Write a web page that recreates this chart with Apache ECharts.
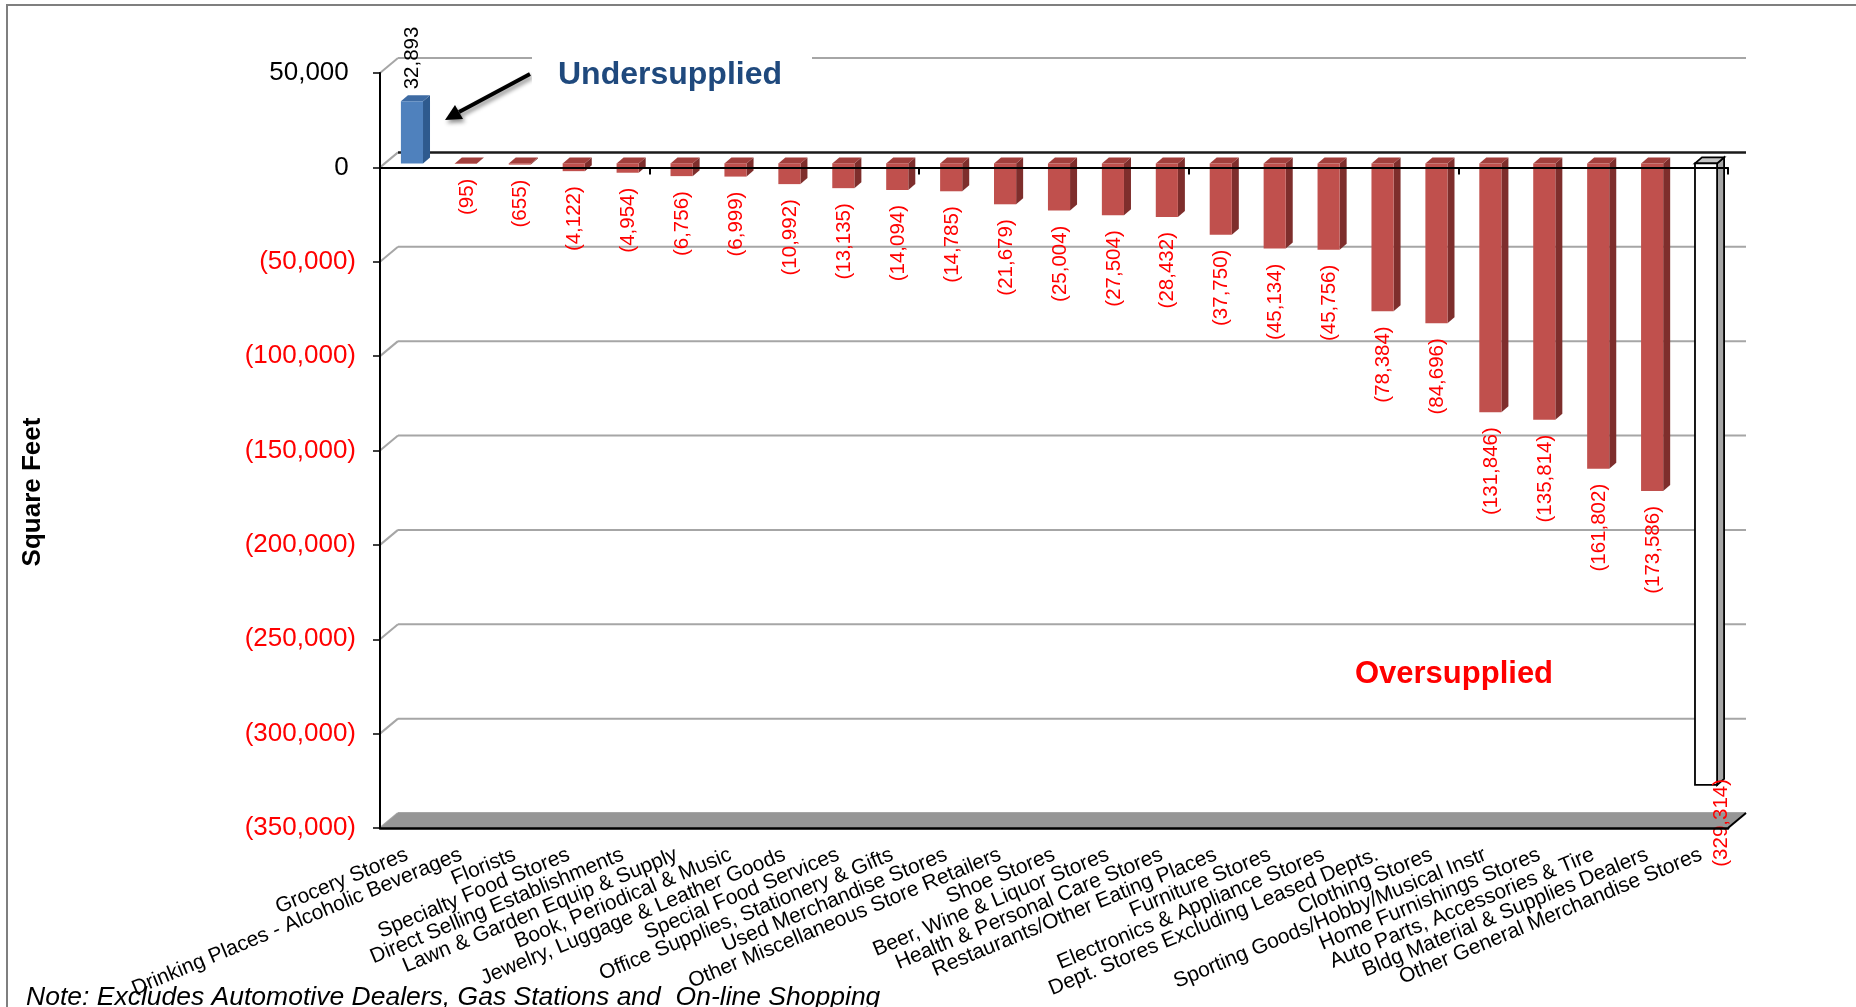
<!DOCTYPE html>
<html>
<head>
<meta charset="utf-8">
<script src="https://cdn.jsdelivr.net/npm/echarts@6/dist/echarts.min.js"></script>
<style>
html,body{margin:0;padding:0;background:#fff;}
#chart{width:1856px;height:1007px;}
</style>
</head>
<body>
<div id="chart"></div>
<script>
const categories = [
  'Grocery Stores',
  'Drinking Places - Alcoholic Beverages',
  'Florists',
  'Specialty Food Stores',
  'Direct Selling Establishments',
  'Lawn & Garden Equip & Supply',
  'Book, Periodical & Music',
  'Jewelry, Luggage & Leather Goods',
  'Special Food Services',
  'Office Supplies, Stationery & Gifts',
  'Used Merchandise Stores',
  'Other Miscellaneous Store Retailers',
  'Shoe Stores',
  'Beer, Wine & Liquor Stores',
  'Health & Personal Care Stores',
  'Restaurants/Other Eating Places',
  'Furniture Stores',
  'Electronics & Appliance Stores',
  'Dept. Stores Excluding Leased Depts.',
  'Clothing Stores',
  'Sporting Goods/Hobby/Musical Instr',
  'Home Furnishings Stores',
  'Auto Parts, Accessories & Tire',
  'Bldg Material & Supplies Dealers',
  'Other General Merchandise Stores'
];
const surplus = [
  32893, -95, -655, -4122, -4954, -6756, -6999, -10992, -13135, -14094,
  -14785, -21679, -25004, -27504, -28432, -37750, -45134, -45756, -78384,
  -84696, -131846, -135814, -161802, -173586, -329314
];
const yTicks = [50000, 0, -50000, -100000, -150000, -200000, -250000, -300000, -350000];
const yMin = -350000, yMax = 50000, yStep = 50000;

const FONT = "'Liberation Sans', Arial, Helvetica, sans-serif";
const WALL_DX = 18, WALL_DY = -15;   // depth of back wall
const BAR_DX = 7, BAR_DY = -6;       // depth of bars
const BAR_SX = 5, BAR_SY = -4;       // bar offset inside the depth
const minVal = Math.min.apply(null, surplus);

function fmt(v) {
  const s = Math.abs(v).toLocaleString('en-US');
  return v < 0 ? '(' + s + ')' : s;
}

const chart = echarts.init(document.getElementById('chart'), null, {renderer: 'canvas'});

function wallItem(params, api) {
  const cs = params.coordSys;
  const v = api.value(0);
  const y = api.coord([0, v])[1];
  const isZero = v === 0;
  return {
    type: 'group',
    children: [
      {type: 'polyline', shape: {points: [[cs.x, y], [cs.x + WALL_DX, y + WALL_DY]]},
       style: {stroke: '#A6A6A6', lineWidth: 2, fill: null}},
      {type: 'line', shape: {x1: cs.x + WALL_DX, y1: y + WALL_DY, x2: cs.x + cs.width + WALL_DX, y2: y + WALL_DY},
       style: {stroke: isZero ? '#1a1a1a' : '#A6A6A6', lineWidth: isZero ? 2.5 : 2}}
    ]
  };
}

function floorItem(params, api) {
  const cs = params.coordSys;
  const yb = api.coord([0, api.value(0)])[1];
  const xr = cs.x + cs.width;
  return {
    type: 'group',
    children: [
      {type: 'polygon', shape: {points: [[cs.x, yb], [xr, yb], [xr + WALL_DX, yb + WALL_DY], [cs.x + WALL_DX, yb + WALL_DY]]},
       style: {fill: '#969696', stroke: null}},
      {type: 'line', shape: {x1: xr, y1: yb, x2: xr + WALL_DX, y2: yb + WALL_DY},
       style: {stroke: '#000', lineWidth: 2}}
    ]
  };
}

function barItem(params, api) {
  const i = api.value(0), v = api.value(1);
  const base = api.coord([i, 0]);
  const end = api.coord([i, v]);
  const floorY = api.coord([i, yMin])[1];
  const band = api.size([1, 0])[0];
  const w = band * 0.41;
  const cx = base[0] + BAR_SX;
  const y0 = base[1] + BAR_SY, y1 = end[1] + BAR_SY;
  const top = Math.min(y0, y1), bot = Math.max(y0, y1);
  const xl = cx - w / 2, xr = cx + w / 2;
  let front, side, topc, stroke = null, lw = 0;
  if (v > 0) { front = '#4F81BD'; side = '#2E5A8E'; topc = '#3E6BA3'; }
  else if (v === minVal) { front = '#FFFFFF'; side = '#A6A6A6'; topc = '#C4C4C4'; stroke = '#000'; lw = 1.8; }
  else { front = '#C0504D'; side = '#7E2E2C'; topc = '#A23F3C'; }
  const children = [
    {type: 'polygon', shape: {points: [[xr, top], [xr + BAR_DX, top + BAR_DY], [xr + BAR_DX, bot + BAR_DY], [xr, bot]]},
     style: {fill: side, stroke: stroke, lineWidth: lw}},
    {type: 'polygon', shape: {points: [[xl, top], [xl + BAR_DX, top + BAR_DY], [xr + BAR_DX, top + BAR_DY], [xr, top]]},
     style: {fill: topc, stroke: stroke, lineWidth: lw}},
    {type: 'rect', shape: {x: xl, y: top, width: w, height: Math.max(bot - top, 0.5)},
     style: {fill: front, stroke: stroke, lineWidth: lw}}
  ];
  const txt = fmt(v);
  if (v > 0) {
    children.push({type: 'text', x: cx, y: top + BAR_DY - 6, rotation: Math.PI / 2,
      style: {text: txt, fill: '#000', font: '20.5px ' + FONT, align: 'left', verticalAlign: 'middle'}});
  } else {
    let lx = cx + 1, ly = bot + 15;
    if (ly + 90 > floorY + 30) { lx = xr + BAR_DX / 2 + 1; ly = bot - 6; }
    children.push({type: 'text', x: lx, y: ly, rotation: Math.PI / 2,
      style: {text: txt, fill: '#FF0000', font: '20.5px ' + FONT, align: 'right', verticalAlign: 'middle'}});
  }
  return {type: 'group', children: children};
}

const option = {
  animation: false,
  backgroundColor: '#fff',
  textStyle: {fontFamily: FONT},
  grid: {left: 380, right: 128, top: 73, bottom: 179, containLabel: false},
  xAxis: [
    {
      type: 'category', data: categories, position: 'bottom',
      axisLine: {show: true, onZero: false, lineStyle: {color: '#000', width: 2.5}},
      axisTick: {show: false},
      axisLabel: {rotate: 22.5, interval: 0, margin: 26, fontSize: 21, color: '#000', fontFamily: FONT},
      splitLine: {show: false},
      z: 5
    },
    {
      type: 'category', data: categories, position: 'top',
      axisLine: {show: true, onZero: true, lineStyle: {color: '#000', width: 2}},
      axisTick: {show: true, inside: true, length: 7, lineStyle: {color: '#000', width: 2}},
      axisLabel: {show: false},
      splitLine: {show: false},
      z: 10
    }
  ],
  yAxis: {
    type: 'value', min: yMin, max: yMax, interval: yStep,
    axisLine: {show: true, lineStyle: {color: '#000', width: 2}},
    axisTick: {show: true, length: 7, lineStyle: {color: '#000', width: 1.5}},
    axisLabel: {
      margin: 24, fontSize: 26, fontFamily: FONT,
      formatter: function (v) { return v < 0 ? fmt(v) : fmt(v) + ' '; },
      color: function (v) { return Number(v) < 0 ? '#FF0000' : '#000000'; }
    },
    splitLine: {show: false},
    z: 6
  },
  series: [
    {type: 'custom', name: 'wall', renderItem: wallItem, data: yTicks.map(v => [v]), z: 1, silent: true, clip: false},
    {type: 'custom', name: 'floor', renderItem: floorItem, data: [[yMin]], z: 2, silent: true, clip: false},
    {type: 'custom', name: 'surplus', renderItem: barItem, encode: {x: 0, y: 1},
     data: surplus.map((v, i) => [i, v]), z: 3, clip: false}
  ],
  graphic: [
    {type: 'polyline', shape: {points: [[7, 1007], [7, 5], [1856, 5]]}, style: {stroke: '#7F7F7F', lineWidth: 2, fill: null}, z: 100},
    {type: 'rect', shape: {x: 532, y: 42, width: 280, height: 66}, style: {fill: '#FFFFFF'}, z: 50},
    {type: 'text', x: 670, y: 75, style: {text: 'Undersupplied', fill: '#1F497D', font: 'bold 32px ' + FONT, align: 'center', verticalAlign: 'middle'}, z: 51},
    {type: 'group', z: 52, children: [
      {type: 'line', shape: {x1: 530, y1: 74, x2: 459, y2: 112},
       style: {stroke: '#000', lineWidth: 4, shadowBlur: 4, shadowColor: 'rgba(0,0,0,0.45)', shadowOffsetX: 2, shadowOffsetY: 3}},
      {type: 'polygon', shape: {points: [[445, 120], [463, 119], [455, 105]]},
       style: {fill: '#000', shadowBlur: 4, shadowColor: 'rgba(0,0,0,0.45)', shadowOffsetX: 2, shadowOffsetY: 3}}
    ]},
    {type: 'text', x: 1454, y: 674, style: {text: 'Oversupplied', fill: '#FF0000', font: 'bold 31px ' + FONT, align: 'center', verticalAlign: 'middle'}, z: 51},
    {type: 'text', x: 33, y: 492, rotation: Math.PI / 2, style: {text: 'Square Feet', fill: '#000', font: 'bold 26px ' + FONT, align: 'center', verticalAlign: 'middle'}, z: 51},
    {type: 'text', x: 26, y: 998, style: {text: 'Note: Excludes Automotive Dealers, Gas Stations and  On-line Shopping', fill: '#000', font: 'italic 26.5px ' + FONT, align: 'left', verticalAlign: 'middle'}, z: 51}
  ]
};
chart.setOption(option);
</script>
</body>
</html>
